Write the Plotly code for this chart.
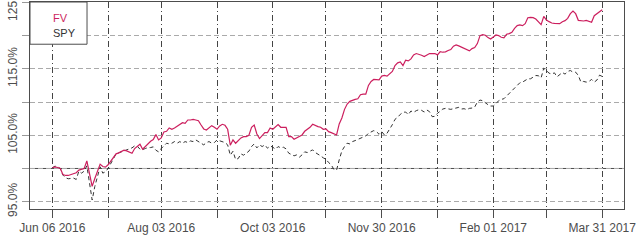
import pandas as pd
import plotly.graph_objects as go

# ---- data ----
start_date = "2016-06-06"
end_date = "2017-03-31"
holidays = ["2016-07-04", "2016-09-05", "2016-11-24", "2016-12-26",
            "2017-01-02", "2017-01-16", "2017-02-20"]
dates = [d.strftime("%Y-%m-%d") for d in pd.bdate_range(start_date, end_date)
         if d.strftime("%Y-%m-%d") not in holidays]

fv = [100.1, 100.25, 100.15, 100.0, 99.1, 98.95, 98.95, 99.05, 99.15, 99.35,
      99.75, 99.85, 100.0, 101.15, 98.9, 97.3, 98.5, 99.75, 100.65, 100.3,
      100.2, 100.55, 101.15, 101.8, 102.2, 102.35, 102.5, 102.75, 102.65, 102.45,
      102.3, 103.0, 103.4, 103.65, 102.9, 103.3, 103.8, 104.1, 104.35, 105.1,
      104.3, 104.6, 105.5, 105.6, 106.1, 105.9, 106.1, 106.4, 106.65, 106.9,
      106.8, 107.3, 107.3, 107.4, 107.3, 107.2, 106.55, 105.95, 105.8, 106.2,
      106.45, 106.2, 105.9, 106.4, 106.65, 106.5, 105.9, 103.5, 104.3, 103.8,
      104.2, 104.6, 104.8, 104.8, 105.0, 106.2, 106.55, 105.2, 104.5, 105.0,
      105.4, 105.4, 106.1, 105.9, 106.2, 106.6, 106.2, 106.2, 106.2, 104.8,
      104.8, 104.4, 104.6, 104.8, 105.05, 105.6, 105.85, 106.2, 106.65, 106.45,
      106.3, 106.2, 105.9, 105.95, 105.55, 105.4, 105.2, 105.05, 106.7, 107.6,
      108.9, 109.7, 110.1, 110.3, 110.4, 110.5, 111.1, 111.2, 111.2, 112.5,
      113.1, 113.4, 113.4, 113.35, 113.9, 114.0, 113.9, 114.3, 114.6, 115.5,
      115.9, 116.05, 115.5, 116.3, 116.2, 116.5, 117.1, 117.3, 117.2, 117.05,
      116.85, 117.05, 117.3, 117.3, 117.3, 117.1, 117.6, 117.5, 117.55, 117.75,
      117.9, 118.4, 118.6, 118.45, 118.25, 118.1, 117.95, 117.7, 118.05, 118.2,
      118.8, 120.0, 120.15, 120.05, 119.7, 119.5, 119.8, 120.1, 120.0, 119.75,
      119.65, 120.2, 120.3, 120.5, 121.1, 121.5, 121.6, 121.5, 121.8, 122.7,
      122.75, 122.7, 122.5, 122.0, 121.65, 122.9, 122.35, 122.1, 121.9, 121.85,
      121.8, 121.8, 122.1, 122.25, 122.6, 123.3, 123.7, 123.3, 122.3, 122.2,
      122.2, 122.3, 122.1, 122.0, 123.0, 123.3, 123.7, 123.9]

spy = [100.1, 100.35, 100.25, 100.0, 99.0, 98.6, 98.45, 98.55, 98.55, 98.35,
       99.6, 99.3, 99.6, 100.4, 97.6, 95.25, 97.3, 98.9, 100.25, 99.3,
       99.5, 100.0, 100.75, 101.6, 102.2, 102.35, 102.5, 102.65, 102.7, 102.95,
       103.1, 103.4, 103.35, 102.9, 102.85, 103.0, 103.15, 103.15, 103.25, 102.75,
       102.5, 103.0, 103.4, 103.8, 103.7, 103.8, 104.05, 103.8, 104.05, 103.8,
       104.05, 103.9, 104.15, 104.05, 104.3, 104.05, 103.8, 103.55, 103.9, 104.05,
       103.8, 103.9, 104.3, 104.15, 104.05, 103.9, 103.55, 102.0, 102.6, 101.35,
       101.5, 102.2, 102.0, 102.3, 102.6, 103.3, 103.7, 103.1, 103.55, 103.3,
       103.55, 103.05, 103.4, 103.2, 102.9, 103.3, 103.1, 103.2, 102.95, 102.3,
       102.05, 101.9, 102.05, 101.7, 102.05, 102.5, 102.4, 102.55, 102.8, 102.4,
       102.2, 101.9, 101.6, 101.4, 100.9, 100.55, 99.85, 99.75, 101.3, 102.65,
       103.3, 103.8, 103.7, 104.05, 104.2, 104.4, 104.55, 104.8, 104.9, 105.3,
       105.55, 105.7, 105.55, 105.15, 105.55, 105.05, 105.3, 105.9, 106.6, 107.4,
       107.7, 108.15, 108.45, 108.5, 108.1, 108.65, 108.45, 108.7, 108.85, 108.75,
       108.5, 108.8, 108.55, 107.8, 107.85, 108.3, 108.7, 108.95, 109.05, 108.95,
       108.9, 109.0, 109.05, 109.2, 108.95, 109.0, 108.85, 109.05, 109.1, 109.25,
       110.0, 110.3, 110.2, 109.85, 109.6, 109.4, 109.4, 109.75, 110.2, 110.4,
       110.5, 110.9, 111.3, 111.6, 112.1, 112.5, 112.9, 113.0, 113.3, 113.5,
       113.5, 113.75, 114.0, 113.95, 113.65, 115.1, 114.7, 114.35, 114.2, 114.4,
       113.8, 114.2, 114.45, 114.2, 114.6, 114.75, 114.5, 114.5, 114.0, 113.0,
       113.1, 113.0, 113.1, 113.4, 113.0, 113.3, 114.05, 113.85]

x_tick_dates = ["2016-06-06", "2016-07-06", "2016-08-03", "2016-09-01", "2016-10-03",
                "2016-10-31", "2016-11-30", "2016-12-30", "2017-02-01", "2017-03-02",
                "2017-03-31"]
x_tick_labels = ["Jun 06 2016", "", "Aug 03 2016", "", "Oct 03 2016",
                 "", "Nov 30 2016", "", "Feb 01 2017", "", "Mar 31 2017"]
y_tick_values = [95, 100, 105, 110, 115, 120, 125]
y_tick_labels = ["95.0%", "", "105.0%", "", "115.0%", "", "125.0%"]
series_names = ["FV", "SPY"]

FV_COLOR = "#CC1F5E"
SPY_COLOR = "#333333"
AXIS_COLOR = "#4D4D4D"
FONT = "Liberation Sans, Arial, sans-serif"

fig = go.Figure()
fig.add_trace(go.Scatter(x=dates, y=spy, mode="lines", name=series_names[1],
                         line=dict(color=SPY_COLOR, width=1, dash="4px,3px")))
fig.add_trace(go.Scatter(x=dates, y=fv, mode="lines", name=series_names[0],
                         line=dict(color=FV_COLOR, width=1.2)))

fig.update_layout(
    width=640, height=240,
    margin=dict(l=30, r=16, t=2, b=31, autoexpand=False),
    paper_bgcolor="white", plot_bgcolor="white",
    showlegend=False,
    font=dict(family=FONT, size=12, color=AXIS_COLOR),
)
fig.update_xaxes(
    type="category", categoryorder="array", categoryarray=dates,
    range=[-8.4, 215.2], automargin=False,
    tickmode="array", tickvals=x_tick_dates, ticktext=x_tick_labels,
    ticks="outside", ticklen=8, tickcolor=AXIS_COLOR, tickwidth=1,
    showgrid=True, gridcolor="#444444", gridwidth=1, griddash="6px,3px,1px,3px",
    showline=True, linecolor=AXIS_COLOR, linewidth=1, mirror=True,
    tickfont=dict(size=12, color=AXIS_COLOR),
    zeroline=False,
)
fig.update_yaxes(
    range=[93.9, 125.06], automargin=False,
    tickmode="array", tickvals=y_tick_values, ticktext=y_tick_labels,
    tickangle=-90, ticklabeloverflow="allow",
    ticks="outside", ticklen=7, tickcolor="#999999", tickwidth=1,
    showgrid=True, gridcolor="#AAAAAA", gridwidth=1, griddash="5px,3px",
    showline=True, linecolor=AXIS_COLOR, linewidth=1, mirror=True,
    tickfont=dict(size=12, color=AXIS_COLOR),
    zeroline=False,
)

# baseline at 100%
fig.add_hline(y=100, line=dict(color=AXIS_COLOR, width=1), layer="below")

# legend box
fig.add_shape(type="rect", xref="paper", yref="paper", x0=0, x1=0.096, y0=0.796, y1=1,
              line=dict(color=AXIS_COLOR, width=1), fillcolor="white", layer="above")
legend_colors = [FV_COLOR, SPY_COLOR]
legend_y = [0.925, 0.848]
for name, col, yy in zip(series_names, legend_colors, legend_y):
    fig.add_annotation(xref="paper", yref="paper", x=0.036, y=yy, text=name,
                       showarrow=False, xanchor="left", yanchor="middle",
                       font=dict(family=FONT, size=11, color=col))

fig.write_html("out.html")
